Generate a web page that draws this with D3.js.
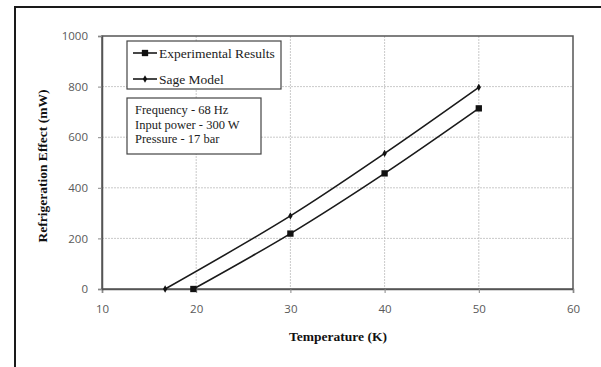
<!DOCTYPE html>
<html>
<head>
<meta charset="utf-8">
<script src="https://cdn.jsdelivr.net/npm/d3@7"></script>
<style>
  body { margin: 0; background: #fff; }
  svg { display: block; }
  .tick-label { font-family: "Open Sans", "DejaVu Sans", sans-serif; font-size: 11.5px; fill: #595959; }
  .title { font-family: "Liberation Serif", "Times New Roman", serif; font-weight: bold; font-size: 13.5px; fill: #111; }
  .legend { font-family: "Liberation Serif", "Times New Roman", serif; font-size: 13.5px; fill: #222; }
  .note { font-family: "Liberation Serif", "Times New Roman", serif; font-size: 12.5px; fill: #222; }
</style>
</head>
<body>
<svg id="chart" width="601" height="367"></svg>
<script>
// data
const temperature_exp = [19.7, 30, 40, 50];
const effect_exp = [0, 219, 457, 714];
const temperature_sage = [16.7, 30, 40, 50];
const effect_sage = [0, 289, 536, 797];
const xTicks = [10, 20, 30, 40, 50, 60];
const yTicks = [0, 200, 400, 600, 800, 1000];
const seriesNames = ["Experimental Results", "Sage Model"];
const noteLines = ["Frequency - 68 Hz", "Input power - 300 W", "Pressure - 17 bar"];

const svg = d3.select("#chart");

// outer frame (cut off at right and bottom like the picture)
svg.append("rect")
  .attr("x", 15).attr("y", 7)
  .attr("width", 700).attr("height", 500)
  .attr("fill", "none").attr("stroke", "#1a1a1a").attr("stroke-width", 2);

const plot = {left: 102, top: 36, right: 573, bottom: 289};

const x = d3.scaleLinear().domain([10, 60]).range([plot.left, plot.right]);
const y = d3.scaleLinear().domain([0, 1000]).range([plot.bottom, plot.top]);

// grid
const grid = svg.append("g");
grid.selectAll("line.gx").data(xTicks.slice(1, -1)).enter().append("line")
  .attr("x1", d => x(d)).attr("x2", d => x(d))
  .attr("y1", plot.top).attr("y2", plot.bottom)
  .attr("stroke", "#bbb").attr("stroke-dasharray", "2,1").attr("stroke-width", 0.8);
grid.selectAll("line.gy").data(yTicks.slice(1, -1)).enter().append("line")
  .attr("x1", plot.left).attr("x2", plot.right)
  .attr("y1", d => y(d)).attr("y2", d => y(d))
  .attr("stroke", "#bbb").attr("stroke-dasharray", "2,1").attr("stroke-width", 0.8);

// plot border
svg.append("rect")
  .attr("x", plot.left).attr("y", plot.top)
  .attr("width", plot.right - plot.left).attr("height", plot.bottom - plot.top)
  .attr("fill", "none").attr("stroke", "#555").attr("stroke-width", 1.5);

// axes
const xAxis = svg.append("g").attr("transform", "translate(0," + plot.bottom + ")")
  .call(d3.axisBottom(x).tickValues(xTicks).tickFormat(d3.format("d")).tickSize(4).tickPadding(12));
const yAxis = svg.append("g").attr("transform", "translate(" + plot.left + ",0)")
  .call(d3.axisLeft(y).tickValues(yTicks).tickFormat(d3.format("d")).tickSize(4).tickPadding(10));
[xAxis, yAxis].forEach(a => {
  a.select(".domain").attr("stroke", "#555").attr("stroke-width", 1.5);
  a.selectAll(".tick line").attr("stroke", "#888");
  a.selectAll(".tick text").attr("class", "tick-label");
  a.attr("font-size", null).attr("font-family", null);
});

// series
const expData = temperature_exp.map((t, i) => [t, effect_exp[i]]);
const sageData = temperature_sage.map((t, i) => [t, effect_sage[i]]);
const line = d3.line().x(d => x(d[0])).y(d => y(d[1])).curve(d3.curveCatmullRom.alpha(0.5));

svg.append("path").datum(sageData).attr("d", line)
  .attr("fill", "none").attr("stroke", "#1a1a1a").attr("stroke-width", 1.6);
svg.append("path").datum(expData).attr("d", line)
  .attr("fill", "none").attr("stroke", "#1a1a1a").attr("stroke-width", 1.6);

const diamond = d3.symbol().type(d3.symbolDiamond).size(16);
const square = d3.symbol().type(d3.symbolSquare).size(40);

svg.selectAll("path.sage").data(sageData).enter().append("path")
  .attr("transform", d => "translate(" + x(d[0]) + "," + y(d[1]) + ")")
  .attr("d", diamond).attr("fill", "#111");
svg.selectAll("path.exp").data(expData).enter().append("path")
  .attr("transform", d => "translate(" + x(d[0]) + "," + y(d[1]) + ")")
  .attr("d", square).attr("fill", "#111");

// legend
const leg = svg.append("g");
leg.append("rect").attr("x", 127).attr("y", 41).attr("width", 154).attr("height", 48)
  .attr("fill", "#fff").attr("stroke", "#444").attr("stroke-width", 1.2);
const markers = [square, diamond];
seriesNames.forEach((name, i) => {
  const ly = 53 + i * 26;
  leg.append("line").attr("x1", 133).attr("x2", 157).attr("y1", ly).attr("y2", ly)
    .attr("stroke", "#1a1a1a").attr("stroke-width", 1.6);
  leg.append("path").attr("transform", "translate(145," + ly + ")").attr("d", markers[i]).attr("fill", "#111");
  leg.append("text").attr("class", "legend").attr("x", 159).attr("y", ly + 5).text(name);
});

// info box
const info = svg.append("g");
info.append("rect").attr("x", 127).attr("y", 98).attr("width", 134).attr("height", 56)
  .attr("fill", "#fff").attr("stroke", "#444").attr("stroke-width", 1.2);
noteLines.forEach((t, i) => {
  info.append("text").attr("class", "note").attr("x", 135).attr("y", 114 + i * 14.5).text(t);
});

// axis titles
svg.append("text").attr("class", "title")
  .attr("text-anchor", "middle")
  .attr("transform", "translate(47,166) rotate(-90)")
  .text("Refrigeration Effect (mW)");
svg.append("text").attr("class", "title")
  .attr("text-anchor", "middle")
  .attr("x", 338).attr("y", 341)
  .text("Temperature (K)");
</script>
</body>
</html>
